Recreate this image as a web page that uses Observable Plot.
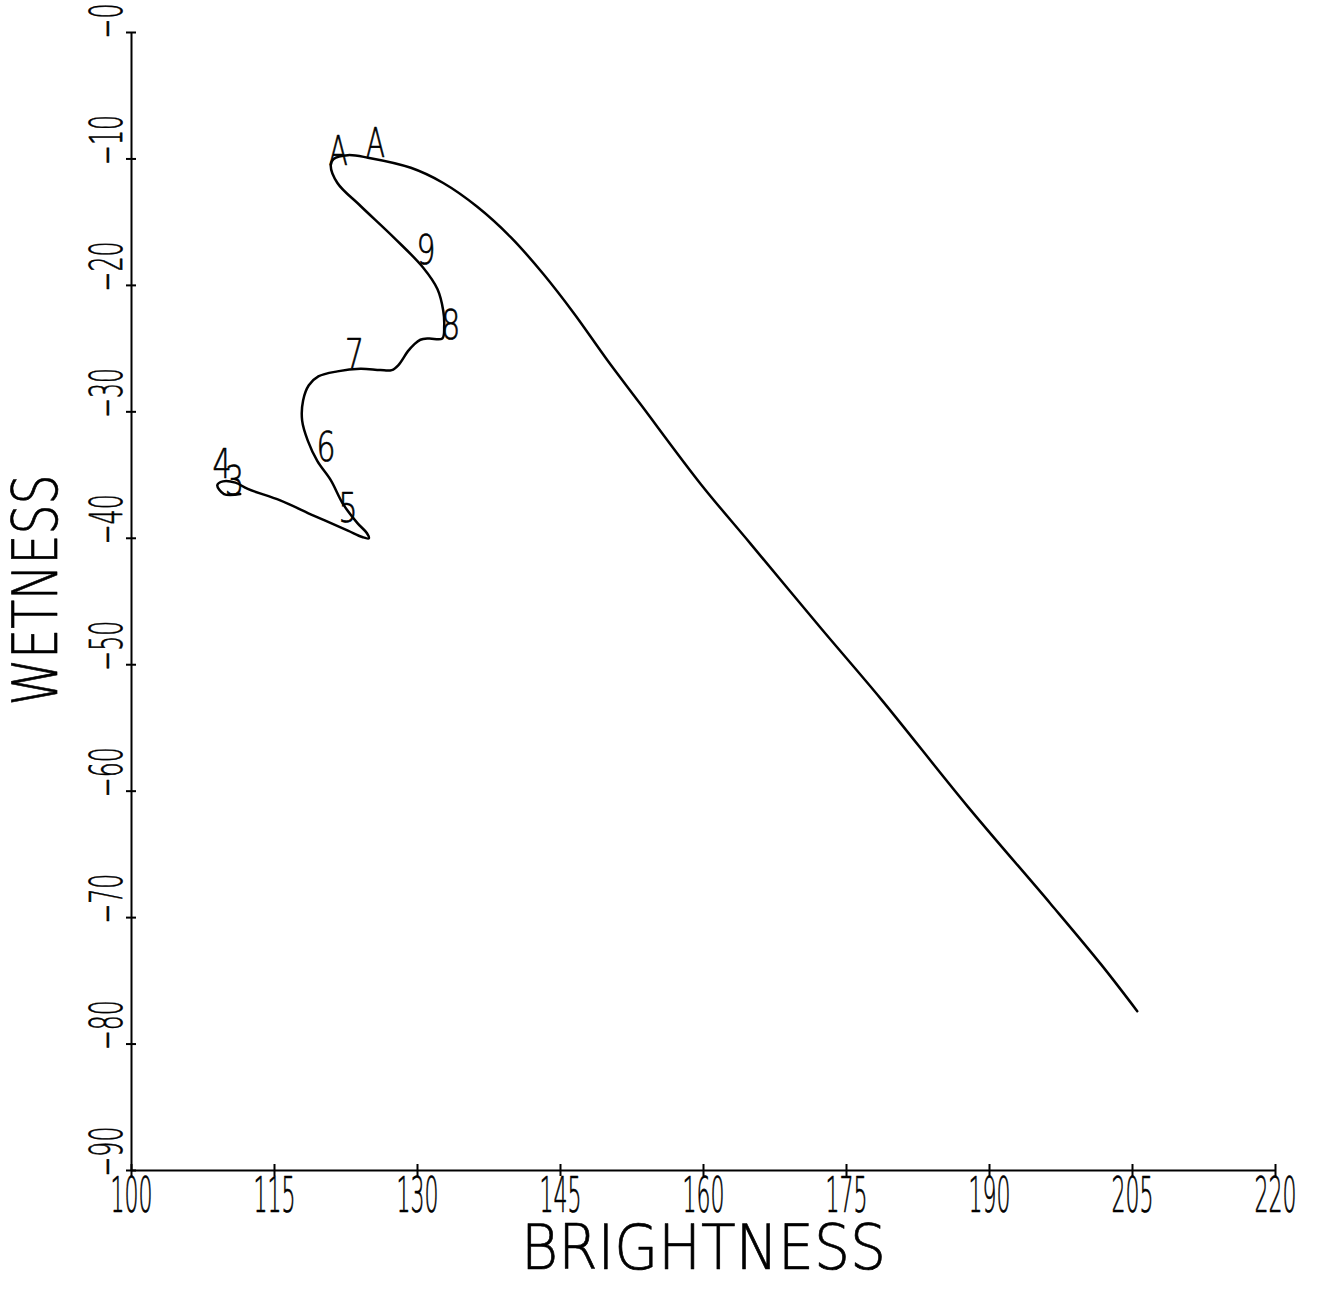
<!DOCTYPE html>
<html>
<head>
<meta charset="utf-8">
<script src="https://cdn.jsdelivr.net/npm/d3@7"></script>
<script src="https://cdn.jsdelivr.net/npm/@observablehq/plot@0.6"></script>
<style>
  html, body { margin: 0; padding: 0; background: #fff; }
  #chart svg { display: block; }
</style>
</head>
<body>
<div id="chart"></div>
<script>
// Trajectory (brightness, wetness)
const brightness = [111.4, 109.7, 109.0, 109.6, 110.9, 112.2, 115.6, 119.1, 122.7, 124.2, 124.9, 124.7, 123.7, 122.2, 120.9, 119.5, 118.5, 117.9, 118.0, 118.6, 119.6, 121.6, 124.0, 126.1, 127.3, 128.0, 129.0, 129.6, 130.3, 131.2, 132.6, 132.8, 132.7, 132.1, 130.6, 127.5, 124.0, 121.6, 120.9, 121.2, 122.7, 124.8, 129.3, 132.7, 136.3, 139.8, 143.2, 146.4, 149.9, 153.4, 159.7, 164.9, 172.3, 178.6, 187.7, 196.4, 201.7, 205.5];
const wetness = [-36.5, -36.5, -35.8, -35.5, -35.6, -36.1, -37.0, -38.2, -39.4, -39.9, -40.0, -39.6, -38.8, -37.3, -35.4, -33.9, -32.3, -30.7, -29.1, -27.9, -27.2, -26.8, -26.6, -26.7, -26.7, -26.3, -25.2, -24.7, -24.3, -24.2, -24.2, -23.2, -22.0, -20.3, -18.6, -16.2, -13.7, -11.9, -10.5, -10.0, -9.7, -9.9, -10.7, -11.9, -13.8, -16.2, -19.1, -22.2, -25.9, -29.4, -35.7, -40.4, -47.1, -52.7, -61.2, -68.9, -73.7, -77.4];

// Point labels along the trajectory
const labelText = ["3", "4", "5", "6", "7", "8", "9", "A", "A"];
const labelX = [110.8, 109.5, 122.7, 120.4, 123.4, 133.5, 130.9, 121.7, 125.6];
const labelY = [-35.6, -34.2, -37.7, -32.9, -25.5, -23.2, -17.3, -9.5, -8.8];

// Axis ticks
const xTicks = [100, 115, 130, 145, 160, 175, 190, 205, 220];
const xTickLabels = ["100", "115", "130", "145", "160", "175", "190", "205", "220"];
const yTicks = [0, -10, -20, -30, -40, -50, -60, -70, -80, -90];
const yTickLabels = ["\u22120", "\u221210", "\u221220", "\u221230", "\u221240", "\u221250", "\u221260", "\u221270", "\u221280", "\u221290"];

const xTitle = "BRIGHTNESS";
const yTitle = "WETNESS";

const pts = brightness.map((b, i) => ({b, w: wetness[i]}));
const labels = labelText.map((t, i) => ({t, x: labelX[i], y: labelY[i]}));
const xt = xTicks.map((v, i) => ({v, s: xTickLabels[i]}));
const yt = yTicks.map((v, i) => ({v, s: yTickLabels[i]}));

const FONT = "'DejaVu Sans', 'Liberation Sans', sans-serif";
const T = {fill: "#000", stroke: "#000", strokeWidth: 0.7, textAnchor: "start"};
// widths (px) of the condensed lettering
const XT_W = 42, LBL_W = 19, XTITLE_W = 365, YTITLE_W = 231;

const svg = Plot.plot({
  width: 1342,
  height: 1305,
  marginLeft: 131,
  marginRight: 67,
  marginTop: 32,
  marginBottom: 135,
  style: {fontFamily: FONT, background: "#fff", color: "#000"},
  x: {domain: [100, 220], axis: null},
  y: {domain: [-90, 0], axis: null},
  marks: [
    // axis lines
    Plot.ruleY([-90], {x1: 100, x2: 220, stroke: "#000", strokeWidth: 2}),
    Plot.ruleX([100], {y1: -90, y2: 0, stroke: "#000", strokeWidth: 2}),
    // cross ticks
    Plot.ruleX(xt, {x: "v", y1: -90, y2: -90, insetTop: -6, insetBottom: -6, stroke: "#000", strokeWidth: 2}),
    Plot.ruleY(yt, {y: "v", x1: 100, x2: 100, insetLeft: -5, insetRight: -5, stroke: "#000", strokeWidth: 2}),
    // tick labels (text mark 0)
    Plot.text(xt, {x: "v", text: "s", frameAnchor: "bottom", dx: -XT_W / 2, dy: 41, rotate: 0.01, fontSize: 50, fontWeight: 200, ...T}),
    // (text mark 1)
    Plot.text(yt, {y: "v", text: "s", frameAnchor: "left", dx: -24, dy: 6, rotate: -90, fontSize: 45, fontWeight: 200, ...T}),
    // axis titles (text marks 2, 3)
    Plot.text([xTitle], {frameAnchor: "bottom", dx: -XTITLE_W / 2, dy: 98, rotate: 0.01, fontSize: 62, fontWeight: 200, ...T}),
    Plot.text([yTitle], {frameAnchor: "left", dx: -94, dy: 104, rotate: -90, fontSize: 62, fontWeight: 200, ...T}),
    // trajectory
    Plot.line(pts, {x: "b", y: "w", stroke: "#000", strokeWidth: 2.5, curve: "catmull-rom"}),
    // point labels (text mark 4)
    Plot.text(labels, {x: "x", y: "y", text: "t", dx: -LBL_W / 2, rotate: 0.01, fontSize: 40, fontWeight: 200, ...T})
  ]
});

document.getElementById("chart").appendChild(svg);

// Condense glyphs to match the narrow plotter lettering
const groups = svg.querySelectorAll('g[aria-label="text"]');
function squeeze(g, perChar, minus) {
  if (!g) return;
  g.querySelectorAll("text").forEach(t => {
    const s = t.textContent;
    let w = 0;
    for (const c of s) w += (c === "\u2212") ? minus : perChar;
    t.setAttribute("textLength", w);
    t.setAttribute("lengthAdjust", "spacingAndGlyphs");
  });
}
squeeze(groups[0], XT_W / 3, 18);
squeeze(groups[1], 15, 20);
squeeze(groups[2], XTITLE_W / 10, 0);
squeeze(groups[3], YTITLE_W / 7, 0);
squeeze(groups[4], LBL_W, LBL_W);
</script>
</body>
</html>
